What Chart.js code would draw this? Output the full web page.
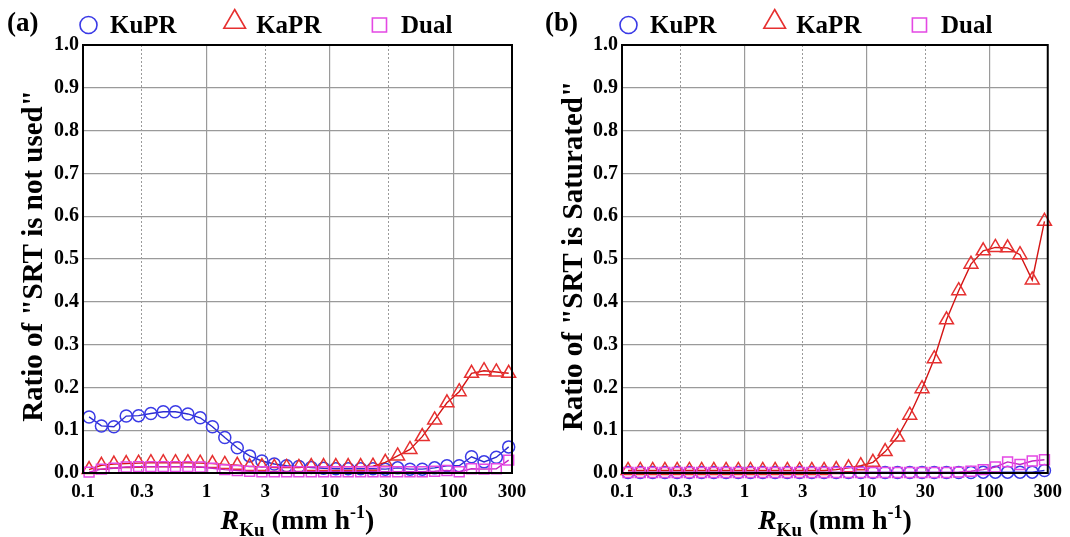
<!DOCTYPE html>
<html><head><meta charset="utf-8">
<script src="https://cdn.jsdelivr.net/npm/chart.js@4.4.0/dist/chart.umd.min.js"></script>
<style>
html,body{margin:0;padding:0;background:#fff;}
#wrap{position:relative;width:1070px;height:537px;overflow:hidden;}
.pane{position:absolute;top:0;height:537px;}
canvas{display:block;}
</style></head><body>
<div id="wrap">
<div class="pane" style="left:0;width:540px"><canvas id="ca" width="540" height="537"></canvas></div>
<div class="pane" style="left:540px;width:530px"><canvas id="cb" width="530" height="537"></canvas></div>
</div>
<script>
// ---- data ----
const rKu = [0.112,0.141,0.178,0.224,0.282,0.355,0.447,0.562,0.708,0.891,
             1.12,1.41,1.78,2.24,2.82,3.55,4.47,5.62,7.08,8.91,
             11.2,14.1,17.8,22.4,28.2,35.5,44.7,56.2,70.8,89.1,
             112,141,178,224,282];

// panel (a): ratio of "SRT is not used"
const kuNotUsed = [0.131,0.110,0.108,0.133,0.134,0.139,0.143,0.143,0.138,0.129,
                   0.108,0.083,0.059,0.040,0.028,0.021,0.017,0.015,0.013,0.011,
                   0.010,0.010,0.010,0.010,0.009,0.012,0.009,0.009,0.012,0.017,
                   0.017,0.038,0.026,0.037,0.061];
const kaNotUsed = [0.008,0.018,0.021,0.022,0.023,0.024,0.024,0.024,0.024,0.023,
                   0.022,0.020,0.018,0.015,0.015,0.013,0.013,0.013,0.015,0.015,
                   0.015,0.015,0.015,0.016,0.025,0.040,0.055,0.085,0.124,0.164,
                   0.190,0.233,0.239,0.236,0.233];
const dualNotUsed = [0.002,0.009,0.011,0.014,0.015,0.015,0.015,0.015,0.015,0.014,
                     0.011,0.008,0.006,0.004,0.003,0.003,0.003,0.003,0.003,0.003,
                     0.003,0.003,0.003,0.003,0.003,0.003,0.003,0.003,0.004,0.006,
                     0.003,0.010,0.009,0.010,0.030];

// panel (b): ratio of "SRT is Saturated"
const kuSaturated = [0.001,0.001,0.001,0.001,0.001,0.001,0.001,0.001,0.001,0.001,
                     0.001,0.001,0.001,0.001,0.001,0.001,0.001,0.001,0.001,0.001,
                     0.001,0.001,0.001,0.001,0.001,0.001,0.001,0.001,0.001,0.002,
                     0.002,0.002,0.002,0.002,0.006];
const kaSaturated = [0.006,0.006,0.006,0.006,0.006,0.006,0.006,0.006,0.006,0.006,
                     0.006,0.006,0.006,0.006,0.006,0.006,0.006,0.008,0.012,0.017,
                     0.025,0.050,0.084,0.135,0.197,0.267,0.358,0.426,0.488,0.519,
                     0.527,0.526,0.510,0.451,0.588];
const dualSaturated = [0.001,0.001,0.001,0.001,0.001,0.001,0.001,0.001,0.001,0.001,
                       0.001,0.001,0.001,0.001,0.001,0.001,0.001,0.001,0.001,0.001,
                       0.001,0.001,0.001,0.001,0.001,0.001,0.001,0.002,0.004,0.008,
                       0.014,0.026,0.020,0.028,0.031];

const seriesNames = ['KuPR','KaPR','Dual'];
const xTickValues = [0.1,0.3,1,3,10,30,100,300];
const xTickLabels = ['0.1','0.3','1','3','10','30','100','300'];
const xMajorValues = [0.1,1,10,100];
const xMinorValues = [0.3,3,30];
const yTickLabels = ['0.0','0.1','0.2','0.3','0.4','0.5','0.6','0.7','0.8','0.9','1.0'];

// ---- styling ----
const SERIF = '"Liberation Serif","Times New Roman",serif';
const styles = [
  {line:'#2b2bd0', mark:'#3a3ae6', shape:'circle', r:6},
  {line:'#d41414', mark:'#e63030', shape:'triangle', r:8},
  {line:'#c424c4', mark:'#e448e4', shape:'rect', r:7}
];

function pts(arr){ return rKu.map((x,i)=>({x:x, y:arr[i]})); }

function makeDatasets(arrs){
  return arrs.map((a,i)=>({
    label: seriesNames[i],
    data: pts(a),
    borderColor: styles[i].line,
    borderWidth: 1.4,
    pointStyle: styles[i].shape,
    pointRadius: styles[i].r,
    pointHoverRadius: styles[i].r,
    pointBorderColor: styles[i].mark,
    pointBackgroundColor: 'rgba(0,0,0,0)',
    pointBorderWidth: 1.5,
    fill: false,
    tension: 0,
    clip: false,
    order: 2 - i
  }));
}

function drawMarker(ctx, shape, x, y, r){
  ctx.beginPath();
  if(shape==='circle'){ ctx.arc(x,y,r,0,Math.PI*2); }
  else if(shape==='triangle'){
    for(let k=0;k<3;k++){
      const a = k*2*Math.PI/3;
      const px = x + Math.sin(a)*r, py = y - Math.cos(a)*r;
      if(k===0) ctx.moveTo(px,py); else ctx.lineTo(px,py);
    }
    ctx.closePath();
  } else { const s=r*Math.SQRT1_2; ctx.rect(x-s,y-s,2*s,2*s); }
  ctx.stroke();
}

function decor(opts){
  return {
    id:'decor',
    afterDraw(chart){
      const ctx = chart.ctx, a = chart.chartArea;
      ctx.save();
      ctx.strokeStyle='#000'; ctx.lineWidth=2;
      ctx.strokeRect(a.left, a.top, a.right-a.left, a.bottom-a.top);
      ctx.fillStyle='#000';
      // panel letter
      ctx.font = 'bold 27px '+SERIF;
      ctx.textAlign='left'; ctx.textBaseline='alphabetic';
      ctx.fillText(opts.letter, opts.letterX, 31);
      // legend
      ctx.font = 'bold 25px '+SERIF;
      let cx = 88.5;
      chart.data.datasets.forEach((ds,i)=>{
        ctx.strokeStyle = styles[i].mark; ctx.lineWidth=1.6;
        const rr = [8.5,12.5,10][i];
        const cy = [25,22,25][i];
        drawMarker(ctx, styles[i].shape, cx, cy, rr);
        ctx.fillStyle='#000';
        const tx = cx + 21.5;
        ctx.fillText(ds.label, tx, 33);
        cx = tx + ctx.measureText(ds.label).width + 58;
      });
      // y title
      ctx.save();
      ctx.font = 'bold 29px '+SERIF;
      ctx.translate(opts.yTitleX, (a.top+a.bottom)/2 - 3);
      ctx.rotate(-Math.PI/2);
      ctx.textAlign='center';
      ctx.fillText(opts.yTitle, 0, 0);
      ctx.restore();
      // x title: R_Ku (mm h^-1)
      const parts = [
        {t:'R', f:'italic bold 28px '+SERIF, dy:0},
        {t:'Ku', f:'bold 19px '+SERIF, dy:7},
        {t:' (mm h', f:'bold 28px '+SERIF, dy:0},
        {t:'-1', f:'bold 18px '+SERIF, dy:-11},
        {t:')', f:'bold 28px '+SERIF, dy:0}
      ];
      let w = 0;
      parts.forEach(p=>{ ctx.font=p.f; p.w = ctx.measureText(p.t).width; w += p.w; });
      let x = (a.left+a.right)/2 - w/2;
      ctx.textAlign='left';
      parts.forEach(p=>{ ctx.font=p.f; ctx.fillText(p.t, x, 529+p.dy); x += p.w; });
      ctx.restore();
    }
  };
}

function makeChart(id, arrs, opts){
  return new Chart(document.getElementById(id), {
    type:'line',
    data:{ datasets: makeDatasets(arrs) },
    options:{
      responsive:false, animation:false, devicePixelRatio:1,
      layout:{ padding:{left:0, top:45, right:opts.padRight, bottom:0} },
      plugins:{ legend:{display:false}, tooltip:{enabled:false} },
      scales:{
        x:{
          type:'logarithmic', min:0.1, max:300, position:'bottom',
          afterBuildTicks:(s)=>{ s.ticks = xTickValues.map(v=>({value:v})); },
          afterFit:(s)=>{ s.height = 64; },
          ticks:{ autoSkip:false, maxRotation:0, padding:8, color:'#000',
                  font:{family:SERIF, size:19, weight:'bold'},
                  callback:(v,i)=> xTickLabels[i] },
          grid:{ drawTicks:false, lineWidth:1.2,
                 color:(c)=> (c.tick && xMajorValues.includes(c.tick.value)) ? '#9a9a9a' : 'rgba(0,0,0,0)' },
          border:{ display:true, color:'#000', width:2 }
        },
        x2:{
          type:'logarithmic', min:0.1, max:300, position:'bottom',
          afterBuildTicks:(s)=>{ s.ticks = xMinorValues.map(v=>({value:v})); },
          afterFit:(s)=>{ s.height = 0; },
          ticks:{ display:false },
          grid:{ drawTicks:false, color:'#9a9a9a', lineWidth:1 },
          border:{ display:false, dash:[2,2] }
        },
        y:{
          min:0, max:1,
          afterBuildTicks:(s)=>{ s.ticks = yTickLabels.map((l,i)=>({value:i/10})); },
          afterFit:(s)=>{ s.width = opts.yWidth; },
          ticks:{ padding:4, color:'#000', font:{family:SERIF, size:20, weight:'bold'},
                  callback:(v,i)=> yTickLabels[i] },
          grid:{ drawTicks:false, color:'#9a9a9a', lineWidth:1.2 },
          border:{ display:true, color:'#000', width:2 }
        }
      }
    },
    plugins:[decor(opts)]
  });
}

makeChart('ca', [kuNotUsed, kaNotUsed, dualNotUsed],
  {letter:'(a)', letterX:7, yTitle:'Ratio of "SRT is not used"', yTitleX:42, padRight:28, yWidth:83});
makeChart('cb', [kuSaturated, kaSaturated, dualSaturated],
  {letter:'(b)', letterX:5, yTitle:'Ratio of "SRT is Saturated"', yTitleX:42, padRight:22, yWidth:82});
</script>
</body></html>
